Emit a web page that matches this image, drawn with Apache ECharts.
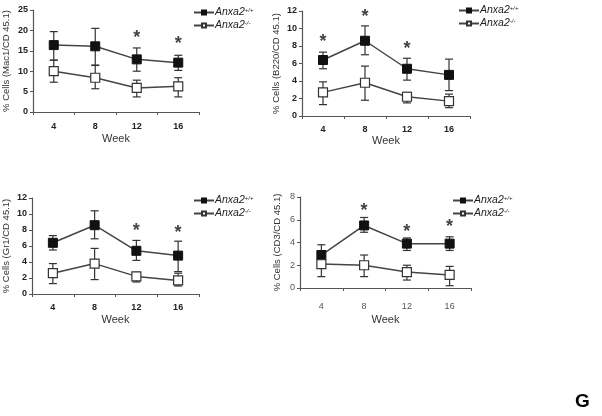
<!DOCTYPE html>
<html><head><meta charset="utf-8">
<script src="https://cdn.jsdelivr.net/npm/echarts@6/dist/echarts.min.js"></script>
<style>html,body{margin:0;padding:0;background:#fff}#c{width:602px;height:416px}</style>
</head><body><div id="c"></div>
<script>
const weeks = ['4','8','12','16'];

const mac1WT = [16.4, 16.1, 12.9, 12.1];
const mac1WTHi = [19.7, 20.5, 15.7, 13.9];
const mac1WTLo = [12.7, 11.5, 10.0, 10.2];
const mac1KO = [10.0, 8.4, 5.9, 6.3];
const mac1KOHi = [12.7, 11.4, 7.8, 8.4];
const mac1KOLo = [7.3, 5.7, 3.7, 3.7];
const mac1Stars = [null, null, 18.1, 16.6];

const b220WT = [6.4, 8.6, 5.4, 4.7];
const b220WTHi = [7.3, 10.3, 6.6, 6.5];
const b220WTLo = [5.4, 7.0, 4.1, 2.9];
const b220KO = [2.7, 3.8, 2.2, 1.7];
const b220KOHi = [3.9, 5.7, 2.7, 2.5];
const b220KOLo = [1.3, 1.8, 1.5, 0.95];
const b220Stars = [8.4, 11.3, 7.6, null];

const gr1WT = [6.4, 8.6, 5.4, 4.8];
const gr1WTHi = [7.3, 10.4, 6.7, 6.6];
const gr1WTLo = [5.5, 6.9, 4.2, 2.8];
const gr1KO = [2.6, 3.8, 2.2, 1.7];
const gr1KOHi = [3.8, 5.7, 2.7, 2.6];
const gr1KOLo = [1.3, 1.8, 1.5, 1.0];
const gr1Stars = [null, null, 7.9, 7.6];

const cd3WT = [2.9, 5.5, 3.9, 3.9];
const cd3WTHi = [3.8, 6.2, 4.4, 4.5];
const cd3WTLo = [2.2, 4.9, 3.3, 3.3];
const cd3KO = [2.1, 2.0, 1.4, 1.15];
const cd3KOHi = [2.8, 2.9, 2.0, 1.9];
const cd3KOLo = [1.0, 1.0, 0.7, 0.2];
const cd3Stars = [null, 6.8, 4.9, 5.35];

const yTitles = ['% Cells (Mac1/CD 45.1)', '% Cells (B220/CD 45.1)', '% Cells (Gr1/CD 45.1)', '% Cells (CD3/CD 45.1)'];
const yMax = [25, 12, 12, 8];
const yInterval = [5, 2, 2, 2];
const nameWT = 'Anxa2+/+';
const nameKO = 'Anxa2-/-';

const panels = [
  {wt: mac1WT, wtHi: mac1WTHi, wtLo: mac1WTLo, ko: mac1KO, koHi: mac1KOHi, koLo: mac1KOLo, stars: mac1Stars},
  {wt: b220WT, wtHi: b220WTHi, wtLo: b220WTLo, ko: b220KO, koHi: b220KOHi, koLo: b220KOLo, stars: b220Stars},
  {wt: gr1WT, wtHi: gr1WTHi, wtLo: gr1WTLo, ko: gr1KO, koHi: gr1KOHi, koLo: gr1KOLo, stars: gr1Stars},
  {wt: cd3WT, wtHi: cd3WTHi, wtLo: cd3WTLo, ko: cd3KO, koHi: cd3KOHi, koLo: cd3KOLo, stars: cd3Stars}
];

const grids = [
  {left: 32, top: 10, width: 167, height: 102},
  {left: 302, top: 11, width: 168, height: 105},
  {left: 31, top: 198, width: 168, height: 96},
  {left: 300, top: 197, width: 171, height: 91}
];
const legendPos = [
  {left: 193, top: 7}, {left: 458, top: 5}, {left: 193, top: 195}, {left: 452, top: 195}
];
const xNameGap = [21, 19, 20, 26];
const xLabelMargin = [10, 9, 9, 14];
const yNameGap = [22, 21, 21, 18];

const axisColor = '#555';
const lineColor = '#444';

function errRender(params, api) {
  const x = api.value(0);
  const lo = api.coord([x, api.value(1)]);
  const hi = api.coord([x, api.value(2)]);
  const w = 4;
  const st = {stroke: '#333', lineWidth: 1.2};
  return {type: 'group', children: [
    {type: 'line', shape: {x1: lo[0], y1: lo[1], x2: hi[0], y2: hi[1]}, style: st},
    {type: 'line', shape: {x1: lo[0]-w, y1: lo[1], x2: lo[0]+w, y2: lo[1]}, style: st},
    {type: 'line', shape: {x1: hi[0]-w, y1: hi[1], x2: hi[0]+w, y2: hi[1]}, style: st}
  ]};
}
function starRender(params, api) {
  const p = api.coord([api.value(0), api.value(1)]);
  return {type: 'text', x: p[0], y: p[1], style: {text: '*', fill: '#444', font: 'bold 18px Arial', align: 'center', verticalAlign: 'middle'}};
}

const option = {
  backgroundColor: '#fff',
  animation: false,
  grid: grids.map(g => Object.assign({containLabel: false}, g)),
  xAxis: grids.map((g, i) => ({
    type: 'category', gridIndex: i, data: weeks, boundaryGap: true,
    name: 'Week', nameLocation: 'middle', nameGap: xNameGap[i],
    nameTextStyle: {fontFamily: 'Arial', fontSize: 11, color: '#333'},
    axisLine: {lineStyle: {color: axisColor, width: 1.2}},
    axisTick: {show: true, length: 3, lineStyle: {color: axisColor}},
    axisLabel: {fontFamily: 'Arial', fontSize: 9, fontWeight: i === 3 ? 'normal' : 'bold', color: i === 3 ? '#555' : '#222', margin: xLabelMargin[i]}
  })),
  yAxis: grids.map((g, i) => ({
    type: 'value', gridIndex: i, min: 0, max: yMax[i], interval: yInterval[i],
    name: yTitles[i], nameLocation: 'middle', nameGap: yNameGap[i],
    nameTextStyle: {fontFamily: 'Arial', fontSize: 9.5, color: '#333'},
    axisLine: {show: true, lineStyle: {color: axisColor, width: 1.2}},
    axisTick: {show: true, length: 3, lineStyle: {color: axisColor}},
    splitLine: {show: false},
    axisLabel: {fontFamily: 'Arial', fontSize: 9, fontWeight: i === 3 ? 'normal' : 'bold', color: i === 3 ? '#555' : '#222', margin: 5}
  })),
  legend: legendPos.map((p, i) => ({
    left: p.left, top: p.top, orient: 'vertical', itemWidth: 20, itemHeight: 5, itemGap: 2,
    padding: 0, selectedMode: false,
    data: [nameWT, nameKO],
    formatter: n => n === nameWT ? '{i|Anxa2}{s|+/+}' : '{i|Anxa2}{s|-/-}',
    textStyle: {
      padding: [0, 0, 0, -4],
      rich: {
        i: {fontFamily: 'Arial', fontStyle: 'italic', fontSize: 10.5, color: '#222'},
        s: {fontFamily: 'Arial', fontStyle: 'italic', fontSize: 6, color: '#222', verticalAlign: 'top', padding: [0, 0, 5, 0]}
      }
    }
  })),
  graphic: [{type: 'text', left: 575, top: 392, style: {text: 'G', font: 'bold 19px Arial', fill: '#000'}}],
  series: []
};

panels.forEach((p, i) => {
  option.series.push({
    type: 'custom', xAxisIndex: i, yAxisIndex: i, renderItem: errRender, z: 1, silent: true,
    data: weeks.map((w, k) => [k, p.wtLo[k], p.wtHi[k]])
  });
  option.series.push({
    type: 'custom', xAxisIndex: i, yAxisIndex: i, renderItem: errRender, z: 1, silent: true,
    data: weeks.map((w, k) => [k, p.koLo[k], p.koHi[k]])
  });
  option.series.push({
    name: nameWT, type: 'line', xAxisIndex: i, yAxisIndex: i, data: p.wt, z: 3,
    symbol: 'rect', symbolSize: 9, showAllSymbol: true,
    lineStyle: {color: lineColor, width: 1.5},
    itemStyle: {color: '#111', borderColor: '#111', borderWidth: 1}
  });
  option.series.push({
    name: nameKO, type: 'line', xAxisIndex: i, yAxisIndex: i, data: p.ko, z: 3,
    symbol: 'rect', symbolSize: 9, showAllSymbol: true,
    lineStyle: {color: lineColor, width: 1.5},
    itemStyle: {color: '#fff', borderColor: '#333', borderWidth: 1.2}
  });
  option.series.push({
    type: 'custom', xAxisIndex: i, yAxisIndex: i, renderItem: starRender, z: 4, silent: true,
    data: p.stars.map((s, k) => s === null ? null : [k, s]).filter(d => d !== null)
  });
});

const chart = echarts.init(document.getElementById('c'), null, {renderer: 'canvas'});
chart.setOption(option);
</script>
</body></html>
